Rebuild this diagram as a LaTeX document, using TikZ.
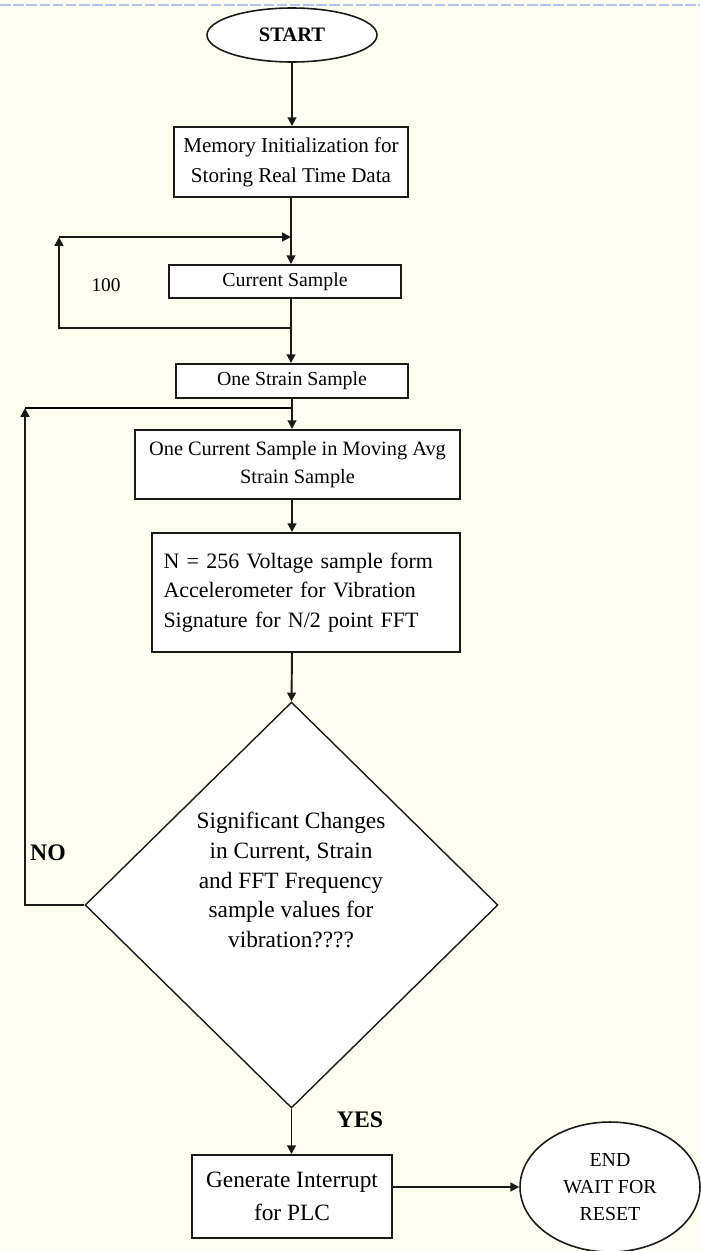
\documentclass[tikz,border=0pt]{standalone}
\usepackage{fontspec}
\setmainfont{Liberation Serif}
\usetikzlibrary{arrows.meta, shapes.geometric}
\definecolor{paper}{HTML}{FEFEF0}
\definecolor{inkline}{HTML}{1A1A1A}
\definecolor{pageedge}{HTML}{B8C4F0}

\begin{document}
\begin{tikzpicture}[
    x=0.02cm, y=-0.02cm,
    >={Triangle[length=5pt,width=5pt]},
    line width=1.1pt,
    procbox/.style={draw=inkline, fill=white, rectangle, inner sep=2pt, align=center, font=\fontsize{11.3}{17}\selectfont},
    termnode/.style={draw=inkline, fill=white, ellipse, inner sep=0pt, line width=0.9pt, align=center},
    flow/.style={->, draw=inkline},
    tag/.style={font=\bfseries\fontsize{13.5}{15}\selectfont}
]

    % Page background and frame
    \useasboundingbox (0,0) rectangle (700,1251);
    \fill[paper] (0,0) rectangle (700,1251);
    \draw[pageedge, line width=1.2pt, dash pattern=on 6pt off 1.5pt] (0,5) -- (700,5);

    % Terminal and process blocks
    \node[termnode, minimum width=3.4cm, minimum height=1.08cm, font=\bfseries\fontsize{11.7}{14}\selectfont] (start) at (292,35) {START};
    \node[procbox, minimum width=4.68cm, minimum height=1.4cm, font=\fontsize{12}{17}\selectfont] (mem) at (291,162) {Memory Initialization for\\Storing Real Time Data};
    \node[procbox, minimum width=4.64cm, minimum height=0.66cm] (cur) at (285,281.5) {Current Sample};
    \node[procbox, minimum width=4.64cm, minimum height=0.68cm] (oss) at (292,381) {One Strain Sample};
    \node[procbox, minimum width=6.5cm, minimum height=1.38cm, font=\fontsize{11.6}{16}\selectfont] (ocs) at (297.5,464.5) {One Current Sample in Moving Avg\\Strain Sample};
    \node[procbox, minimum width=6.16cm, minimum height=2.38cm, text width=5.7cm, align=left, font=\fontsize{12.5}{17}\selectfont] (vib) at (306,592.5) {N = 256 Voltage sample form\\Accelerometer for Vibration\\Signature for N/2 point FFT};

    % Decision
    \node[draw=inkline, fill=white, diamond, minimum width=8.26cm, minimum height=8.12cm, inner sep=0pt, line width=0.8pt] (dec) at (291.5,905) {};
    \node[align=center, font=\fontsize{13.3}{17}\selectfont] (qtext) at (291,880) {Significant Changes\\in Current, Strain\\and FFT Frequency\\sample values for\\vibration????};

    \node[procbox, minimum width=4cm, minimum height=1.66cm, font=\fontsize{13.3}{18.5}\selectfont] (gen) at (292,1196.5) {Generate Interrupt\\for PLC};
    \node[termnode, minimum width=3.6cm, minimum height=2.6cm, font=\fontsize{11.3}{15.3}\selectfont] (end) at (610,1187) {END\\WAIT FOR\\RESET};

    % Labels
    \node[font=\fontsize{11}{13}\selectfont] (count) at (106,285) {100};
    \node[tag] (no) at (48,853) {NO};
    \node[tag] (yes) at (360,1120) {YES};

    % Loop joints
    \coordinate (upjoin) at (291,237);
    \coordinate (upleave) at (291,328);
    \coordinate (upcorner) at (59,237);
    \coordinate (nojoin) at (291,408);
    \coordinate (nocorner) at (25,408);

    % Main flow
    \draw[flow] (start.south) -- (start.south |- mem.north);
    \draw[flow] (mem.south) -- (mem.south |- cur.north);
    \draw[flow] (mem.south |- cur.south) -- (mem.south |- oss.north);
    \draw[flow] (oss.south) -- (oss.south |- ocs.north);
    \draw[flow] (oss.south |- ocs.south) -- (oss.south |- vib.north);
    \draw[flow] (oss.south |- vib.south) -- (dec.north);
    \draw[flow] (dec.south) -- (dec.south |- gen.north);
    \draw[flow] (gen.east |- end.west) -- (end.west);

    % Sample loop (100)
    \draw[flow] (upleave) -| (upcorner);
    \draw[flow] (upcorner) -- (upjoin);

    % NO branch back
    \draw[flow] (dec.west) -| (nocorner);
    \draw (nocorner) -- (nojoin);

\end{tikzpicture}
\end{document}
